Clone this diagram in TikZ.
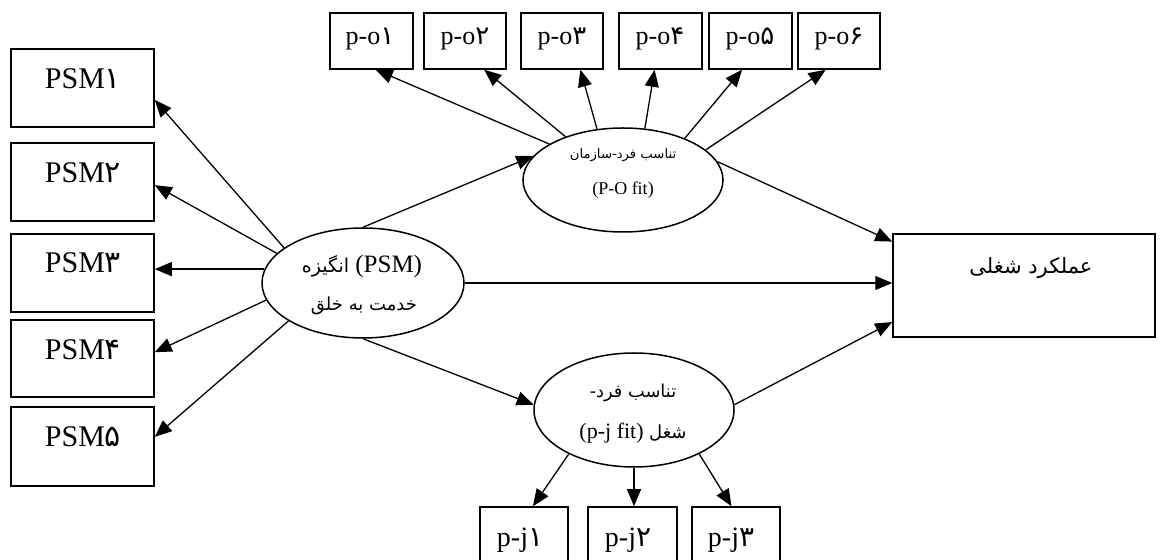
\documentclass[tikz,border=0pt]{standalone}
\usepackage{fontspec}
\setmainfont{Liberation Serif}
\newfontfamily\arabicfont[Script=Arabic]{DejaVu Sans}
\TeXXeTstate=1
\usetikzlibrary{shapes.geometric,arrows.meta,calc,fit}
\newcommand\pdig[1]{{\arabicfont #1}}
\begin{document}
\begin{tikzpicture}[x=0.5pt,y=-0.5pt,
  box/.style={draw, line width=0.75pt, inner sep=0pt},
  oval/.style={draw, ellipse, line width=0.75pt, inner sep=0pt},
  arr/.style={line width=0.65pt, -{Triangle[length=8.5pt,width=7pt]}},
  psmtxt/.style={font=\fontsize{15}{18}\selectfont, inner sep=0pt, anchor=base},
  potxt/.style={font=\fontsize{13}{16}\selectfont, inner sep=0pt, anchor=base},
  pjtxt/.style={font=\fontsize{14}{17}\selectfont, inner sep=0pt, anchor=base},
  ovtxt/.style={inner sep=0pt, anchor=center}
]
\useasboundingbox (0,0) rectangle (1164,560);
% PSM indicator boxes
\node[box, fit={(11,49)(154,127)}] (psm1) {};
\node[box, fit={(11,143)(154,221)}] (psm2) {};
\node[box, fit={(11,234)(154,312)}] (psm3) {};
\node[box, fit={(11,320)(154,397)}] (psm4) {};
\node[box, fit={(11,407)(154,486)}] (psm5) {};
\node[psmtxt] (t1) at (83,89) {PSM\pdig{۱}};
\node[psmtxt] (t2) at (83,183) {PSM\pdig{۲}};
\node[psmtxt] (t3) at (83,273) {PSM\pdig{۳}};
\node[psmtxt] (t4) at (83,360) {PSM\pdig{۴}};
\node[psmtxt] (t5) at (83,447) {PSM\pdig{۵}};
% P-O indicator boxes
\node[box, fit={(330,13)(413,69)}] (po1) {};
\node[box, fit={(424,13)(506,69)}] (po2) {};
\node[box, fit={(521,13)(603,69)}] (po3) {};
\node[box, fit={(619,13)(702,69)}] (po4) {};
\node[box, fit={(709,13)(792,69)}] (po5) {};
\node[box, fit={(798,13)(880,69)}] (po6) {};
\node[potxt] (o1) at (370,45) {p-o\pdig{۱}};
\node[potxt] (o2) at (465,45) {p-o\pdig{۲}};
\node[potxt] (o3) at (562,45) {p-o\pdig{۳}};
\node[potxt] (o4) at (660,45) {p-o\pdig{۴}};
\node[potxt] (o5) at (750,45) {p-o\pdig{۵}};
\node[potxt] (o6) at (839,45) {p-o\pdig{۶}};
% P-J indicator boxes
\node[box, fit={(480,507)(568,563)}] (pj1) {};
\node[box, fit={(588,507)(677,563)}] (pj2) {};
\node[box, fit={(692,507)(780,563)}] (pj3) {};
\node[pjtxt] (j1) at (520,547) {p-j\pdig{۱}};
\node[pjtxt] (j2) at (628,547) {p-j\pdig{۲}};
\node[pjtxt] (j3) at (731,547) {p-j\pdig{۳}};
% job performance
\node[box, fit={(893,234)(1155,337)}] (job) {};
\node[ovtxt, font=\arabicfont\fontsize{10.5}{13}\selectfont] (jobt) at (1031,268) {\beginR عملکرد شغلی\endR};
% latent variables
\node[oval, minimum width=101pt, minimum height=55pt] (psm) at (363,283) {};
\node[ovtxt, font=\fontsize{12.5}{15}\selectfont] (psml1) at (362,266) {\beginR\beginL(PSM)\endL{} {\arabicfont\fontsize{9.5}{12}\selectfont انگیزه}\endR};
\node[ovtxt, font=\arabicfont\fontsize{9}{11}\selectfont] (psml2) at (364,306) {\beginR خدمت به خلق\endR};
\node[oval, minimum width=100pt, minimum height=52pt] (po) at (623,180) {};
\node[ovtxt, font=\arabicfont\fontsize{6.6}{8}\selectfont] (pol1) at (623,155) {\beginR تناسب فرد\hbox{-}سازمان\endR};
\node[ovtxt, font=\fontsize{9}{11}\selectfont] (pol2) at (623,190) {(P-O fit)};
\node[oval, minimum width=100pt, minimum height=57pt] (pj) at (634,410) {};
\node[ovtxt, font=\arabicfont\fontsize{8.9}{11}\selectfont] (pjl1) at (633,393) {\beginR تناسب فرد\hbox{-}\endR};
\node[ovtxt, font=\fontsize{11}{13}\selectfont] (pjl2) at (633,433) {\beginR{\arabicfont\fontsize{9}{11}\selectfont شغل} \beginL(p-j fit)\endL\endR};
% connectors
\draw[arr] (psm.156) -- ($(psm1.south east)!0.35!(psm1.north east)$);
\draw[arr] (psm.161) -- ($(psm2.south east)!0.46!(psm2.north east)$);
\draw[arr] (psm.172) -- (psm.172 -| psm3.east);
\draw[arr] (psm.190) -- ($(psm4.south east)!0.58!(psm4.north east)$);
\draw[arr] (psm.207) -- ($(psm5.south east)!0.62!(psm5.north east)$);
\draw[arr] (psm.90) -- (po.165);
\draw[arr] (psm.east) -- (psm.east -| job.west);
\draw[arr] (psm.270) -- (pj.177);
\draw[arr] (po.154) -- ($(po1.south west)!0.55!(po1.south east)$);
\draw[arr] (po.143) -- ($(po2.south west)!0.73!(po2.south east)$);
\draw[arr] (po.117) -- ($(po3.south west)!0.72!(po3.south east)$);
\draw[arr] (po.67) -- ($(po4.south west)!0.43!(po4.south east)$);
\draw[arr] (po.34) -- ($(po5.south west)!0.40!(po5.south east)$);
\draw[arr] (po.20) -- ($(po6.south west)!0.34!(po6.south east)$);
\draw[arr] (po.11) -- ($(job.north west)!0.08!(job.south west)$);
\draw[arr] (pj.3) -- ($(job.north west)!0.85!(job.south west)$);
\draw[arr] (pj.214) -- ($(pj1.north west)!0.6!(pj1.north east)$);
\draw[arr] (pj.south) -- (pj.south |- pj2.north);
\draw[arr] (pj.326) -- ($(pj3.north west)!0.45!(pj3.north east)$);
\end{tikzpicture}
\end{document}
